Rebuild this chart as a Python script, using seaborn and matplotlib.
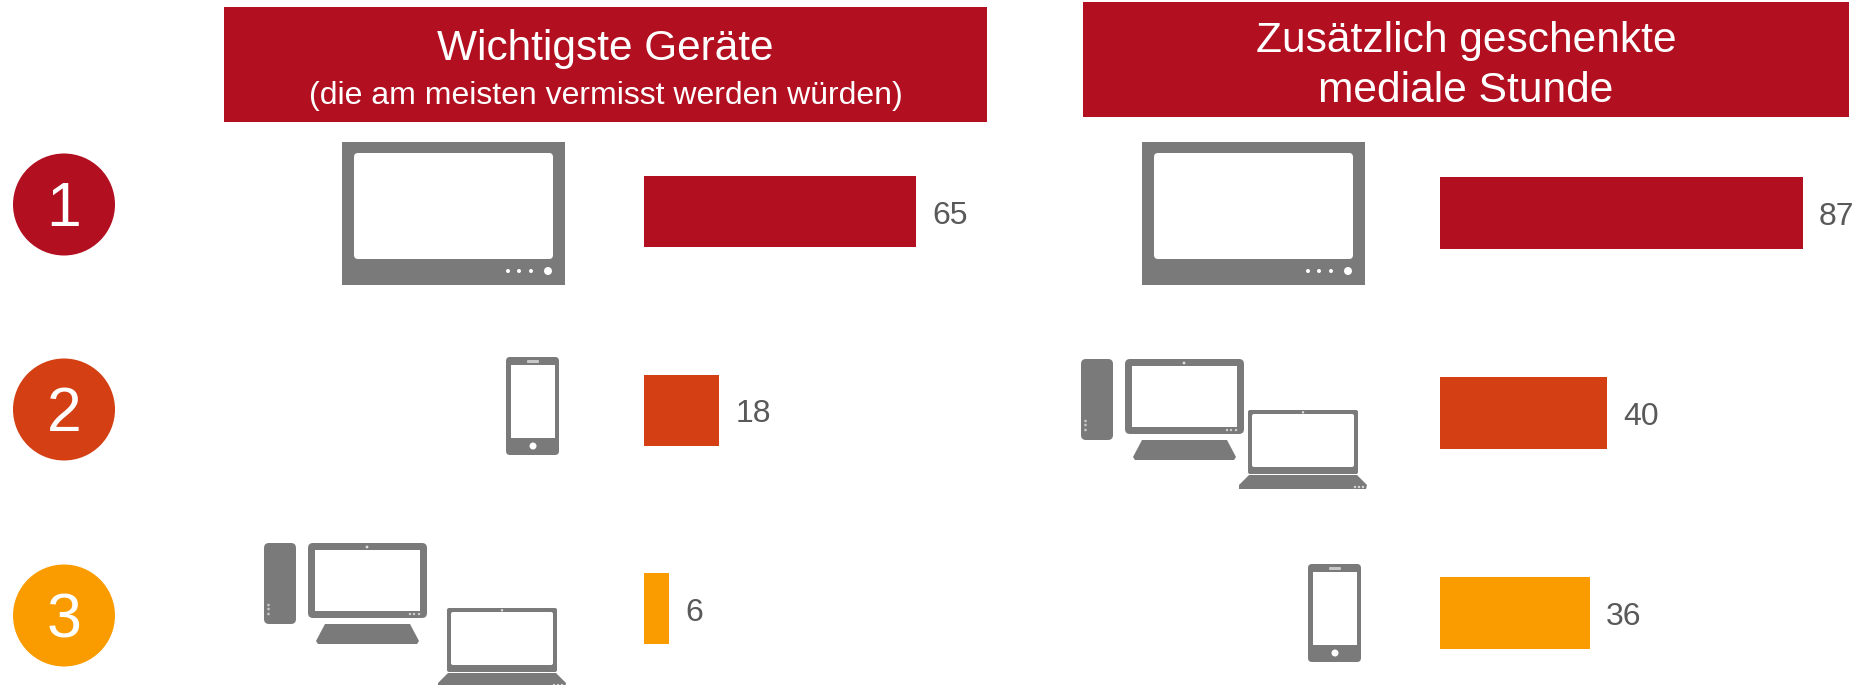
import matplotlib
matplotlib.use("Agg")
import matplotlib.pyplot as plt
from matplotlib.patches import Rectangle, Circle, FancyBboxPatch, Polygon
import pandas as pd
import seaborn as sns

# ---- data
ranks = ["1", "2", "3"]
devices_left = ["TV", "Smartphone", "Computer"]
values_left = [65, 18, 6]
devices_right = ["TV", "Computer", "Smartphone"]
values_right = [87, 40, 36]
colors = ["#B20F20", "#D43F14", "#FA9C00"]
header_left = ["Wichtigste Geräte", "(die am meisten vermisst werden würden)"]
header_right = ["Zusätzlich geschenkte", "mediale Stunde"]

GREY = "#7A7A7A"
TEXT = "#595959"
W, H = 1860, 685
DPI = 100

sns.set_theme(style="white")
plt.rcParams["font.family"] = ["Liberation Sans", "DejaVu Sans"]

fig = plt.figure(figsize=(W / DPI, H / DPI), dpi=DPI, facecolor="white")

# overlay in pixel coordinates for the headers, rank badges and device icons
bg = fig.add_axes([0, 0, 1, 1])
bg.set_xlim(0, W)
bg.set_ylim(H, 0)
bg.set_axis_off()


def rect(x0, y0, x1, y1, color=GREY, rad=0):
    if rad:
        bg.add_patch(FancyBboxPatch((x0 + rad, y0 + rad), x1 - x0 - 2 * rad, y1 - y0 - 2 * rad,
                                    boxstyle=f"round,pad={rad},rounding_size={rad}",
                                    fc=color, ec="none"))
    else:
        bg.add_patch(Rectangle((x0, y0), x1 - x0, y1 - y0, fc=color, ec="none"))


def dot(x, y, r, color="white"):
    bg.add_patch(Circle((x, y), r, fc=color, ec="none"))


def tv(ox, oy):
    rect(ox, oy, ox + 223, oy + 143)
    rect(ox + 12, oy + 11, ox + 211, oy + 117, "white", 4)
    for dx in (166, 177, 189):
        dot(ox + dx, oy + 129, 2)
    dot(ox + 206, oy + 129, 4)


def phone(ox, oy):
    rect(ox, oy, ox + 53, oy + 98, GREY, 4)
    rect(ox + 5, oy + 8, ox + 49, oy + 81, "white")
    rect(ox + 21, oy + 3, ox + 33, oy + 6, "#C8C8C8", 1)
    dot(ox + 27, oy + 89, 3.5)


def desktop(ox, oy):
    rect(ox, oy, ox + 32, oy + 81, GREY, 5)
    for dy in (62, 66, 71):
        dot(ox + 4.5, oy + dy, 1.3, "#C8C8C8")
    rect(ox + 44, oy, ox + 163, oy + 75, GREY, 5)
    rect(ox + 51, oy + 7, ox + 156, oy + 68, "white")
    dot(ox + 103, oy + 4, 1.4, "#E0E0E0")
    for dx in (146, 150, 155):
        dot(ox + dx, oy + 71, 1.2, "#D0D0D0")
    bg.add_patch(Polygon([(ox + 61, oy + 81), (ox + 146, oy + 81), (ox + 155, oy + 98),
                          (ox + 153, oy + 101), (ox + 54, oy + 101), (ox + 52, oy + 98)],
                         closed=True, fc=GREY, ec="none"))


def laptop(ox, oy):
    rect(ox, oy, ox + 110, oy + 64, GREY, 2)
    rect(ox + 4, oy + 4, ox + 106, oy + 57, "white", 2)
    dot(ox + 55, oy + 2.3, 1.2, "#E0E0E0")
    bg.add_patch(Polygon([(ox + 1, oy + 65), (ox + 109, oy + 65), (ox + 119, oy + 75),
                          (ox + 118, oy + 79), (ox - 9, oy + 79), (ox - 9, oy + 75)],
                         closed=True, fc=GREY, ec="none"))
    for dx in (107, 111, 115):
        dot(ox + dx, oy + 77, 1.2, "#D8D8D8")


def draw_device(name, kind_pos):
    if name == "TV":
        tv(*kind_pos)
    elif name == "Smartphone":
        phone(*kind_pos)
    else:
        desktop(*kind_pos[0])
        laptop(*kind_pos[1])


# headers
rect(224, 7, 987, 122, colors[0])
bg.text(605.5, 48.5, header_left[0], color="white", fontsize=30.5, ha="center", va="center")
bg.text(605.5, 96, header_left[1], color="white", fontsize=23, ha="center", va="center")
rect(1083, 2, 1849, 117, colors[0])
bg.text(1466, 40.5, header_right[0], color="white", fontsize=30.6, ha="center", va="center")
bg.text(1466, 90.5, header_right[1], color="white", fontsize=30.6, ha="center", va="center")

# rank badges
for rank, col, cy in zip(ranks, colors, (204.5, 409.5, 615.5)):
    dot(64, cy, 51, col)
    bg.text(64, cy + 5, rank, color="white", fontsize=45, ha="center", va="center")

# device icons
positions_left = {"TV": (342, 142), "Smartphone": (506, 357),
                  "Computer": ((264, 543), (447, 608))}
positions_right = {"TV": (1142, 142), "Smartphone": (1308, 564),
                   "Computer": ((1081, 359), (1248, 410))}
for d in devices_left:
    draw_device(d, positions_left[d])
for d in devices_right:
    draw_device(d, positions_right[d])


def bars(values, devices, x0, first, step, thick, unit):
    """Horizontal seaborn bars, placed so that category centres hit the wanted pixel rows."""
    top, bottom = 125, 680
    width_px = W - x0
    ax = fig.add_axes([x0 / W, 1 - bottom / H, width_px / W, (bottom - top) / H])
    ax.patch.set_alpha(0)
    df = pd.DataFrame({"device": devices, "value": values, "rank": ranks})
    sns.barplot(data=df, x="value", y="rank", hue="rank", palette=colors, legend=False,
                width=thick / step, linewidth=0, saturation=1, ax=ax)
    ax.set_xlim(0, width_px / unit)
    ax.set_ylim((bottom - first) / step, (top - first) / step)
    ax.set_axis_off()
    for cont in ax.containers:
        for ann in ax.bar_label(cont, fmt="%d", padding=16 * 72 / DPI, color=TEXT, fontsize=23):
            ann.xyann = (ann.xyann[0], -3)
    return ax


bars(values_left, devices_left, 644, 211.5, 198.5, 71, 4.19)
bars(values_right, devices_right, 1440, 213, 200, 72, 4.17)

fig.savefig("out.png", dpi=DPI, facecolor="white")
